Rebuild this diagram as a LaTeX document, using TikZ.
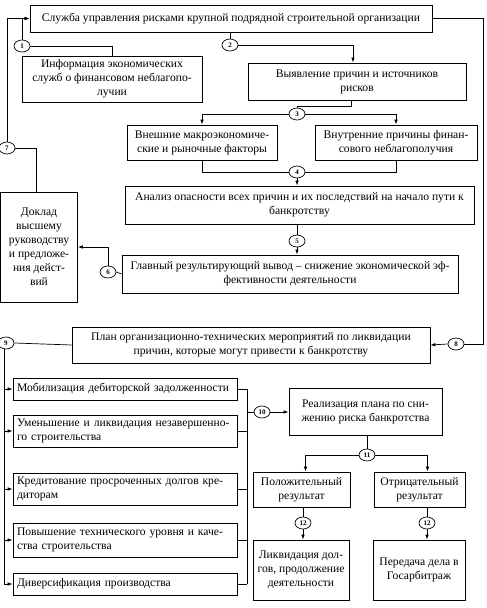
\documentclass[tikz,border=0pt]{standalone}
\usepackage{fontspec}
\setmainfont{Liberation Serif}
\usetikzlibrary{shapes.geometric,arrows.meta,calc}
\begin{document}
\begin{tikzpicture}[x=1pt,y=-1pt,
  bx/.style={draw,line width=0.8pt,inner sep=1pt,align=center,font=\fontsize{11.6}{14}\selectfont},
  lbx/.style={bx,align=left,inner xsep=4pt,minimum width=224pt,text width=216pt},
  num/.style={draw,ellipse,line width=0.7pt,minimum width=16pt,minimum height=12pt,inner sep=0pt,font=\fontsize{7}{7}\selectfont\bfseries,fill=white},
  ln/.style={line width=0.7pt},
  ar/.style={ln,-{Latex[length=5pt,width=3.5pt]}}]
\useasboundingbox (0,0) rectangle (487,608);

% boxes
\node[bx,minimum width=402pt,minimum height=27pt] (top) at (231,18.5) {Служба управления рисками крупной подрядной строительной организации};
\node[bx,minimum width=180pt,minimum height=46pt] (info) at (112,79) {Информация экономических\\служб о финансовом неблагопо-\\лучии};
\node[bx,minimum width=218pt,minimum height=37pt] (vyy) at (357,81.5) {Выявление причин и источников\\рисков};
\node[bx,minimum width=150pt,minimum height=35pt] (vnesh) at (202,142.5) {Внешние макроэкономиче-\\ские и рыночные факторы};
\node[bx,minimum width=162pt,minimum height=35pt] (vnutr) at (396,142.5) {Внутренние причины финан-\\сового неблагополучия};
\node[bx,minimum width=349pt,minimum height=38pt] (analiz) at (299.5,205) {Анализ опасности всех причин и их последствий на начало пути к\\банкротству};
\node[bx,minimum width=336pt,minimum height=38pt] (glav) at (290,274) {Главный результирующий вывод – снижение экономической эф-\\фективности деятельности};
\node[bx,minimum width=77pt,minimum height=110pt] (doklad) at (39,247) {Доклад\\высшему\\руководству\\и предложе-\\ния дейст-\\вий};
\node[bx,minimum width=358pt,minimum height=36pt] (plan) at (251,345) {План организационно-технических мероприятий по ликвидации\\причин, которые могут привести к банкротству};

\node[lbx,minimum height=22pt] (m1) at (125,389) {Мобилизация дебиторской задолженности};
\node[lbx,minimum height=32pt] (m2) at (125,431) {Уменьшение и ликвидация незавершенно-\\го строительства};
\node[lbx,minimum height=32pt] (m3) at (125,489) {Кредитование просроченных долгов кре-\\диторам};
\node[lbx,minimum height=34pt] (m4) at (125,540) {Повышение технического уровня и каче-\\ства строительства};
\node[lbx,minimum height=22pt] (m5) at (125,584) {Диверсификация производства};

\node[bx,minimum width=153pt,minimum height=47pt] (real) at (365.5,411.5) {Реализация плана по сни-\\жению риска банкротства};
\node[bx,minimum width=97pt,minimum height=35pt] (pos) at (301.5,489.5) {Положительный\\результат};
\node[bx,minimum width=91pt,minimum height=35pt] (neg) at (419.5,489.5) {Отрицательный\\результат};
\node[bx,minimum width=96pt,minimum height=60pt] (liq) at (301,570) {Ликвидация дол-\\гов, продолжение\\деятельности};
\node[bx,minimum width=92pt,minimum height=60pt] (pered) at (419,570) {Передача дела в\\Госарбитраж};

% numbered circles
\node[num] (c1) at (22,46) {1};
\node[num] (c2) at (230,45) {2};
\node[num] (c3) at (297,114) {3};
\node[num] (c4) at (297,172) {4};
\node[num] (c5) at (297,241) {5};
\node[num] (c6) at (108,272) {6};
\node[num] (c7) at (7,148) {7};
\node[num] (c8) at (456,344) {8};
\node[num] (c9) at (6,343) {9};
\node[num] (c10) at (262,412) {10};
\node[num] (c11) at (367,455) {11};
\node[num] (c12a) at (303,523) {12};
\node[num] (c12b) at (427,523) {12};

\coordinate (R) at (483,18.5);
\coordinate (S) at (247,412);

% connectors
\draw[ar] (c1.north) |- (top.west);
\draw[ar] (c7.north) |- (top.west);
\draw[ln] (info.north) |- (c1.east);
\draw[ln] (c2.north) -- (c2.north |- top.south);
\draw[ar] (c2.east) -| ([xshift=-4pt]vyy.north);
\draw[ln] ([xshift=-6pt]vyy.south) -- ++(0,6) -| (c3.north);
\draw[ar] (c3.west) -| (vnesh.north);
\draw[ar] (c3.east) -| (vnutr.north);
\draw[ln] (vnesh.south) |- (c4.west);
\draw[ln] (vnutr.south) |- (c4.east);
\draw[ar] (c4.south) -- (c4.south |- analiz.north);
\draw[ln] (c5.north) -- (c5.north |- analiz.south);
\draw[ar] (c5.south) -- (c5.south |- glav.north);
\draw[ln] (glav.west) -- (c6.east);
\draw[ar] (c6.north) |- (doklad.east);
\draw[ln] ([xshift=-3pt]doklad.north) |- (c7.east);
\draw[ln] (top.east) -- (R) |- (c8.east);
\draw[ar] (c8.west) -- (plan.east);
\draw[ln] (plan.west) -- (c9.east);
\foreach \m in {m1,m2,m3,m4,m5}{
  \draw[ar] ([xshift=-2pt]c9.south) |- (\m.west);
  \draw[ln] (\m.east) -- (\m.east -| S);
}
\draw[ln] (m1.east -| S) -- (m5.east -| S);
\draw[ln] (S) -- (c10.west);
\draw[ar] (c10.east) -- (c10.east -| real.west);
\draw[ln] (c11.north) -- (c11.north |- real.south);
\draw[ar] (c11.west) -| ([xshift=4pt]pos.north);
\draw[ar] (c11.east) -| ([xshift=8pt]neg.north);
\draw[ln] (c12a.north) -- (c12a.north |- pos.south);
\draw[ar] (c12a.south) -- (c12a.south |- liq.north);
\draw[ln] (c12b.north) -- (c12b.north |- neg.south);
\draw[ar] (c12b.south) -- (c12b.south |- pered.north);
\end{tikzpicture}
\end{document}
